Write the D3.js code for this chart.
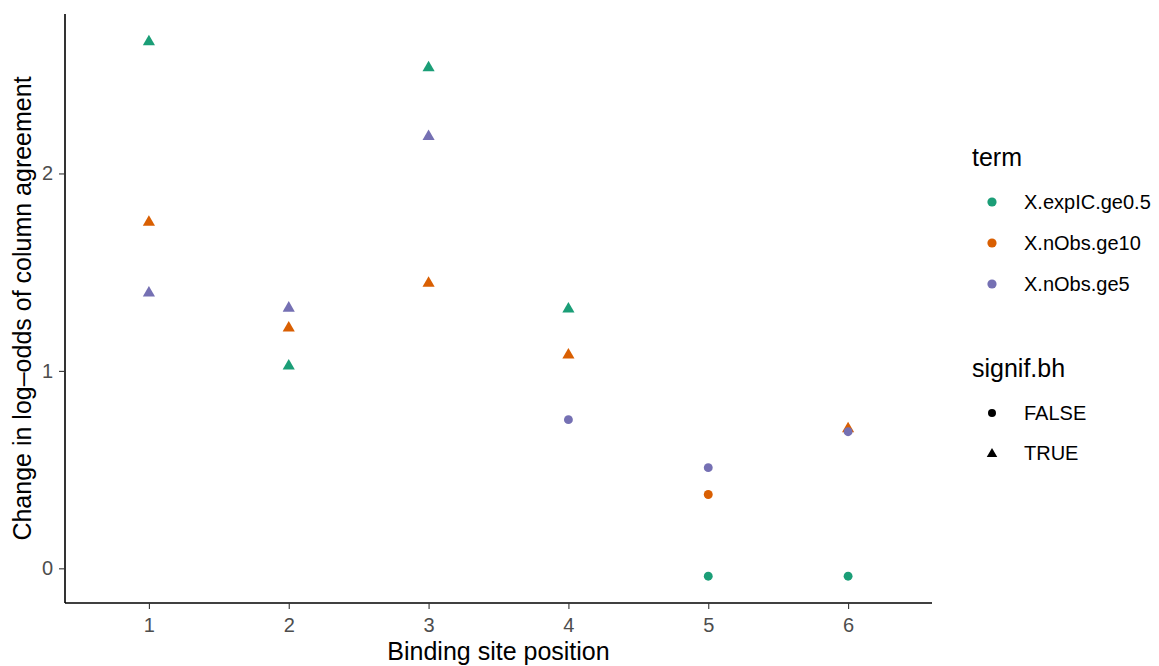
<!DOCTYPE html>
<html>
<head>
<meta charset="utf-8">
<script src="https://cdn.jsdelivr.net/npm/d3@7"></script>
<style>
  body { margin: 0; background: #fff; }
  text { font-family: "Liberation Sans", Arial, sans-serif; }
</style>
</head>
<body>
<div id="chart"></div>
<script>
const positions = ["1", "2", "3", "4", "5", "6"];
const terms = ["X.expIC.ge0.5", "X.nObs.ge10", "X.nObs.ge5"];
const termColors = ["#1B9E77", "#D95F02", "#7570B3"];
const signifLevels = ["FALSE", "TRUE"];

// estimate per term, one per binding site position
const expIC = [2.672, 1.030, 2.540, 1.318, -0.040, -0.040];
const nObs10 = [1.758, 1.222, 1.449, 1.086, 0.374, 0.712];
const nObs5 = [1.399, 1.323, 2.192, 0.753, 0.510, 0.692];
// significance (BH) per term, per position
const expICSig = [true, true, true, true, false, false];
const nObs10Sig = [true, true, true, true, false, true];
const nObs5Sig = [true, true, true, false, false, false];

const yTicks = [0, 1, 2];

const seriesVals = [expIC, nObs10, nObs5];
const seriesSig = [expICSig, nObs10Sig, nObs5Sig];
const points = [];
terms.forEach((t, i) => {
  positions.forEach((p, j) => {
    points.push({ pos: p, term: t, value: seriesVals[i][j], signif: seriesSig[i][j] ? "TRUE" : "FALSE" });
  });
});

const width = 1159, height = 666;
const margin = { left: 65, right: 227, top: 14, bottom: 63 };

const svg = d3.select("#chart").append("svg")
  .attr("width", width)
  .attr("height", height);

const x = d3.scalePoint()
  .domain(positions)
  .range([margin.left, width - margin.right])
  .padding(0.6);

const allVals = points.map(d => d.value);
const yMin = d3.min(allVals), yMax = d3.max(allVals);
const pad = (yMax - yMin) * 0.05;
const y = d3.scaleLinear()
  .domain([yMin - pad, yMax + pad])
  .range([height - margin.bottom, margin.top]);

const color = d3.scaleOrdinal().domain(terms).range(termColors);
const shape = d3.scaleOrdinal().domain(signifLevels).range([d3.symbolCircle, d3.symbolTriangle]);
const symSize = d3.scaleOrdinal().domain(signifLevels).range([62, 64]);

// axes
const xAxis = svg.append("g")
  .attr("transform", `translate(0,${height - margin.bottom})`)
  .call(d3.axisBottom(x).tickSize(6).tickPadding(6));
const yAxis = svg.append("g")
  .attr("transform", `translate(${margin.left},0)`)
  .call(d3.axisLeft(y).tickValues(yTicks).tickFormat(d3.format("d")).tickSize(6).tickPadding(6));

[xAxis, yAxis].forEach(a => {
  a.select(".domain").attr("stroke", "#000").attr("stroke-width", 1.6);
  a.selectAll(".tick line").attr("stroke", "#333").attr("stroke-width", 1.1);
  a.selectAll(".tick text").attr("fill", "#4D4D4D").style("font-size", "20px");
});
xAxis.selectAll(".tick text").attr("y", 15);
// stretch domains to span the full panel
xAxis.select(".domain").attr("d", `M${margin.left},0H${width - margin.right}`);
yAxis.select(".domain").attr("d", `M0,${margin.top}V${height - margin.bottom}`);

// points
svg.append("g")
  .selectAll("path")
  .data(points)
  .join("path")
  .attr("transform", d => `translate(${x(d.pos)},${y(d.value) + (d.signif === "TRUE" ? 1 : 0)})`)
  .attr("d", d => d3.symbol(shape(d.signif), symSize(d.signif))())
  .attr("fill", d => color(d.term));

// axis titles
svg.append("text")
  .attr("x", (margin.left + width - margin.right) / 2)
  .attr("y", 660)
  .attr("text-anchor", "middle")
  .style("font-size", "25px")
  .text("Binding site position");

svg.append("text")
  .attr("transform", `translate(31,${(margin.top + height - margin.bottom) / 2}) rotate(-90)`)
  .attr("text-anchor", "middle")
  .style("font-size", "25px")
  .text("Change in log\u2013odds of column agreement");

// legends
const lg = svg.append("g").attr("transform", "translate(970,0)");
lg.append("text").attr("x", 2).attr("y", 166).style("font-size", "25px").text("term");
const termItems = lg.selectAll("g.term").data(terms).join("g")
  .attr("transform", (d, i) => `translate(0,${202 + i * 41})`);
termItems.append("circle").attr("cx", 22).attr("cy", 0).attr("r", 4.6).attr("fill", d => color(d));
termItems.append("text").attr("x", 54).attr("y", 0).attr("dy", "0.36em").style("font-size", "20px").text(d => d);

lg.append("text").attr("x", 2).attr("y", 377).style("font-size", "25px").text("signif.bh");
const sigItems = lg.selectAll("g.sig").data(signifLevels).join("g")
  .attr("transform", (d, i) => `translate(0,${413 + i * 40})`);
sigItems.append("path")
  .attr("transform", d => `translate(22,${d === "TRUE" ? 1 : 0})`)
  .attr("d", d => d3.symbol(shape(d), d === "TRUE" ? 48 : 50)())
  .attr("fill", "#000");
sigItems.append("text").attr("x", 54).attr("y", 0).attr("dy", "0.36em").style("font-size", "20px").text(d => d);
</script>
</body>
</html>
